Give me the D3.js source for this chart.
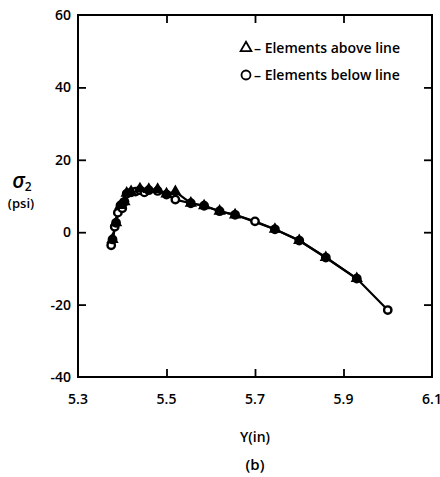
<!DOCTYPE html>
<html>
<head>
<meta charset="utf-8">
<script src="https://cdnjs.cloudflare.com/ajax/libs/d3/7.8.5/d3.min.js"></script>
<style>
  body { margin: 0; background: #fff; }
  text { font-family: "Open Sans", "DejaVu Sans", sans-serif; fill: #000; font-weight: 600; }
</style>
</head>
<body>
<div id="chart"></div>
<script>
// values
var xTicks = [5.3, 5.5, 5.7, 5.9, 6.1];
var yTicks = [-40, -20, 0, 20, 40, 60];

// elements below line (circles)
var belowX = [5.375, 5.378, 5.383, 5.386, 5.39, 5.396, 5.40, 5.405, 5.41, 5.42, 5.43, 5.44, 5.45, 5.46, 5.48, 5.50, 5.52, 5.555, 5.585, 5.62, 5.655, 5.70, 5.745, 5.80, 5.86, 5.93, 6.00];
var belowY = [-3.6, -2.0, 1.5, 2.6, 5.4, 7.4, 6.6, 8.4, 10.6, 11.0, 11.2, 11.6, 11.0, 11.6, 11.4, 10.4, 9.0, 8.0, 7.3, 5.8, 4.8, 3.0, 0.8, -2.3, -7.0, -12.8, -21.5];

// elements above line (triangles)
var aboveX = [5.378, 5.386, 5.396, 5.405, 5.41, 5.42, 5.44, 5.46, 5.48, 5.50, 5.52, 5.555, 5.585, 5.62, 5.655, 5.745, 5.80, 5.86, 5.93];
var aboveY = [-2.0, 2.6, 7.4, 8.4, 10.8, 11.2, 12.0, 11.8, 11.8, 10.6, 11.2, 8.0, 7.3, 5.8, 4.8, 0.8, -2.3, -7.0, -12.8];

var W = 440, H = 477;
var svg = d3.select('#chart').append('svg')
  .attr('width', W)
  .attr('height', H);

var x = d3.scaleLinear().domain([5.3, 6.1]).range([78, 432]);
var y = d3.scaleLinear().domain([-40, 60]).range([377, 15]);

// frame
svg.append('rect')
  .attr('x', x(5.3)).attr('y', y(60))
  .attr('width', x(6.1) - x(5.3)).attr('height', y(-40) - y(60))
  .attr('fill', 'none').attr('stroke', '#000').attr('stroke-width', 2);

// inward ticks on all four sides
var tk = 8;
var innerX = xTicks.slice(1, -1), innerY = yTicks.slice(1, -1);
svg.append('g').call(d3.axisTop(x).tickValues(innerX).tickSize(tk).tickFormat(''))
  .attr('transform', 'translate(0,' + y(-40) + ')');
svg.append('g').call(d3.axisBottom(x).tickValues(innerX).tickSize(tk).tickFormat(''))
  .attr('transform', 'translate(0,' + y(60) + ')');
svg.append('g').call(d3.axisRight(y).tickValues(innerY).tickSize(tk).tickFormat(''))
  .attr('transform', 'translate(' + x(5.3) + ',0)');
svg.append('g').call(d3.axisLeft(y).tickValues(innerY).tickSize(tk).tickFormat(''))
  .attr('transform', 'translate(' + x(6.1) + ',0)');
svg.selectAll('.domain').remove();
svg.selectAll('.tick line').attr('stroke', '#000').attr('stroke-width', 1.8);

// tick labels
svg.selectAll('.xlab').data(xTicks).enter().append('text')
  .attr('x', function (d) { return x(d); })
  .attr('y', 404)
  .attr('text-anchor', 'middle')
  .attr('font-size', 14)
  .text(function (d) { return d.toFixed(1); });
svg.selectAll('.ylab').data(yTicks).enter().append('text')
  .attr('x', 71)
  .attr('y', function (d) { return y(d) + 5; })
  .attr('text-anchor', 'end')
  .attr('font-size', 14)
  .text(function (d) { return d; });

// axis titles
svg.append('text').attr('x', 255).attr('y', 442).attr('text-anchor', 'middle')
  .attr('font-size', 14).text('Y(in)');
svg.append('text').attr('x', 255).attr('y', 470).attr('text-anchor', 'middle')
  .attr('font-size', 15).attr('font-weight', 400).text('(b)');
var sig = svg.append('text').attr('x', 22).attr('y', 188).attr('text-anchor', 'middle')
  .attr('font-size', 21).attr('font-style', 'italic').attr('font-family', 'DejaVu Serif, serif');
sig.append('tspan').text('σ');
sig.append('tspan').attr('font-size', 12).attr('dy', 3).attr('font-style', 'normal')
  .attr('font-family', 'Open Sans, sans-serif').text('2');
svg.append('text').attr('x', 21).attr('y', 208).attr('text-anchor', 'middle')
  .attr('font-size', 13).text('(psi)');

// lines
var line = d3.line()
  .x(function (d) { return x(d[0]); })
  .y(function (d) { return y(d[1]); });
var below = belowX.map(function (v, i) { return [v, belowY[i]]; });
var above = aboveX.map(function (v, i) { return [v, aboveY[i]]; });

svg.append('path').datum(below).attr('d', line)
  .attr('fill', 'none').attr('stroke', '#000').attr('stroke-width', 2.2);
svg.append('path').datum(above).attr('d', line)
  .attr('fill', 'none').attr('stroke', '#000').attr('stroke-width', 2.2);

// markers
svg.selectAll('.circ').data(below).enter().append('circle')
  .attr('cx', function (d) { return x(d[0]); })
  .attr('cy', function (d) { return y(d[1]); })
  .attr('r', 3.7)
  .attr('fill', '#fff').attr('stroke', '#000').attr('stroke-width', 2.4);
var tri = d3.symbol().type(d3.symbolTriangle).size(34);
svg.selectAll('.tri').data(above).enter().append('path')
  .attr('d', tri)
  .attr('transform', function (d) { return 'translate(' + x(d[0]) + ',' + y(d[1]) + ')'; })
  .attr('fill', '#000').attr('stroke', '#000').attr('stroke-width', 2);

// legend
var lg = svg.append('g');
lg.append('path').attr('d', d3.symbol().type(d3.symbolTriangle).size(50))
  .attr('transform', 'translate(246,48)')
  .attr('fill', 'none').attr('stroke', '#000').attr('stroke-width', 1.8);
lg.append('text').attr('x', 254).attr('y', 53).attr('font-size', 14).text('\u2013 Elements above line');
lg.append('circle').attr('cx', 246).attr('cy', 75).attr('r', 4.5)
  .attr('fill', 'none').attr('stroke', '#000').attr('stroke-width', 1.8);
lg.append('text').attr('x', 254).attr('y', 80).attr('font-size', 14).text('\u2013 Elements below line');
</script>
</body>
</html>
